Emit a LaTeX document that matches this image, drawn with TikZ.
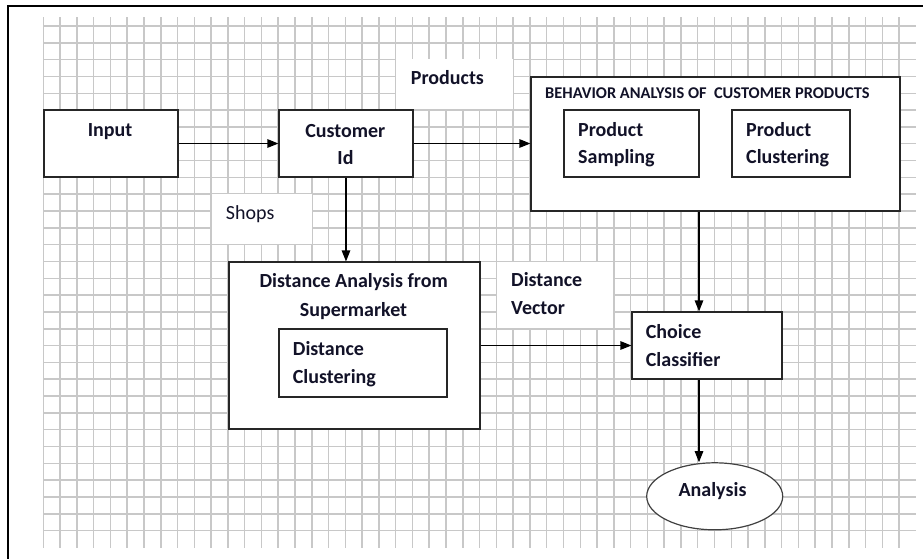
\documentclass[tikz,border=0pt]{standalone}
\usepackage{fontspec}
\setmainfont{Carlito}
\usetikzlibrary{arrows.meta,shapes.geometric}
\definecolor{inkc}{RGB}{18,18,40}
\definecolor{gridc}{RGB}{200,200,200}
\begin{document}
\begin{tikzpicture}[x=1pt,y=-1pt,
  gridline/.style={draw=gridc, line width=1.5pt},
  box/.style={draw=black!85, line width=1.2pt, fill=white, inner sep=0pt, rectangle},
  oval/.style={draw=black!75, line width=1.2pt, fill=white, inner sep=0pt, ellipse},
  patch/.style={fill=white, inner sep=0pt, rectangle},
  txt/.style={anchor=base west, inner sep=0pt, text=inkc, font=\fontsize{20}{24}\selectfont\bfseries},
  ctxt/.style={txt, anchor=base},
  plain/.style={txt, font=\fontsize{20}{24}\selectfont},
  title/.style={txt, font=\fontsize{16.4}{20}\selectfont\bfseries},
  flow/.style={draw=black, line width=1.2pt, -{Triangle[length=11pt,width=8.5pt]}}]
\useasboundingbox (0,0) rectangle (923,558);

% squared paper background
\foreach \i in {0,...,51}
  \draw[gridline] (43.3+16.78*\i,17) -- (43.3+16.78*\i,548);
\foreach \j in {0,...,30}
  \draw[gridline] (43,26+16.82*\j) -- (916,26+16.82*\j);

% page frame
\draw[line width=2pt] (8,562) -- (8,6) -- (927,6);

% white label backgrounds
\node[patch, minimum width=117pt, minimum height=50pt] (prodbg) at (454.5,84) {};
\node[patch, minimum width=100pt, minimum height=50pt] (shopsbg) at (262,219) {};
\node[patch, minimum width=116pt, minimum height=66pt] (dvecbg) at (555,295) {};

% blocks
\node[box, minimum width=134pt, minimum height=67pt] (input) at (111,143.5) {};
\node[box, minimum width=134pt, minimum height=67pt] (cust) at (346,143.5) {};
\node[box, minimum width=369pt, minimum height=134pt] (beh) at (715.5,144) {};
\node[box, minimum width=135pt, minimum height=67pt] (samp) at (631.5,143.5) {};
\node[box, minimum width=118pt, minimum height=67pt] (pclus) at (791,143.5) {};
\node[box, minimum width=251pt, minimum height=167pt] (dist) at (354.5,345.5) {};
\node[box, minimum width=168pt, minimum height=68pt] (dclus) at (363,363) {};
\node[box, minimum width=150pt, minimum height=67pt] (choice) at (707,345.5) {};
\node[oval, minimum width=136pt, minimum height=67pt] (ana) at (714.7,496.3) {};

% texts
\node[ctxt] (tinput) at (110,136.7) {Input};
\node[ctxt] (tcust1) at (345.3,137) {Customer};
\node[ctxt] (tcust2) at (345.5,164) {Id};
\node[txt] (tprod) at (410.7,84.3) {Products};
\node[title] (tbeh) at (545,98.3) {BEHAVIOR ANALYSIS OF\ \ CUSTOMER PRODUCTS};
\node[txt] (tsamp1) at (578,136) {Product};
\node[txt] (tsamp2) at (578,163.3) {Sampling};
\node[txt] (tpclus1) at (746,136) {Product};
\node[txt] (tpclus2) at (746,163.3) {Clustering};
\node[plain] (tshops) at (225.7,219) {Shops};
\node[ctxt] (tdist1) at (353.7,287.3) {Distance Analysis from};
\node[ctxt] (tdist2) at (353.5,316.7) {Supermarket};
\node[txt] (tdclus1) at (292.7,355) {Distance};
\node[txt] (tdclus2) at (292.7,383.3) {Clustering};
\node[txt] (tdvec1) at (511,286) {Distance};
\node[txt] (tdvec2) at (511,314) {Vector};
\node[txt] (tchoice1) at (645.7,338.3) {Choice};
\node[txt] (tchoice2) at (645.7,366) {Classifier};
\node[ctxt] (tana) at (712.5,496.7) {Analysis};

% connectors
\coordinate (spine) at (699,0);
\draw[flow] (input.east) -- (cust.west);
\draw[flow] (cust.east) -- (beh.west |- cust.east);
\draw[flow] (cust.south) -- (cust.south |- dist.north);
\draw[flow] (dist.east) -- (choice.west);
\draw[flow] (beh.south -| spine) -- (choice.north -| spine);
\draw[flow] (choice.south -| spine) -- (ana.north -| spine);
\end{tikzpicture}
\end{document}
